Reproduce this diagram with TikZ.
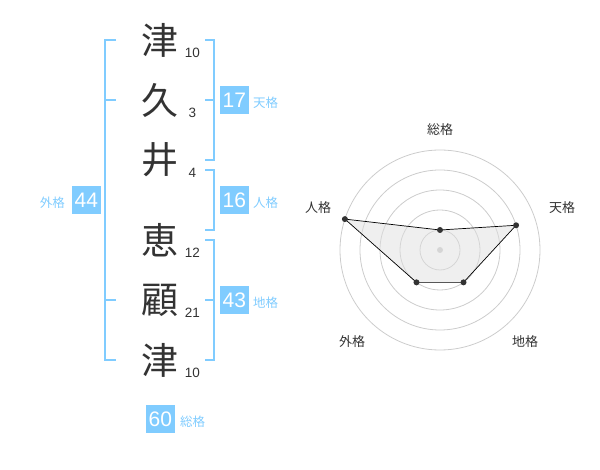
\documentclass[tikz,border=0pt]{standalone}
\usepackage{fontspec}
\setmainfont{Liberation Sans}
\newfontfamily\jp{Noto Sans CJK JP}
\definecolor{kakublue}{HTML}{80CCFF}
\definecolor{inkgray}{HTML}{333333}
\definecolor{gridgray}{HTML}{CCCCCC}
\tikzset{
  moji/.style={font=\jp\fontsize{37}{37}\selectfont, text=inkgray, inner sep=0pt},
  kakusu/.style={font=\fontsize{13.5}{13.5}\selectfont, text=inkgray, inner sep=0pt},
  numbox/.style={fill=kakublue, text=white, font=\fontsize{21}{21}\selectfont, minimum size=28.7pt, inner sep=0pt},
  boxlabel/.style={font=\jp\fontsize{12.5}{12.5}\selectfont, text=kakublue, inner sep=0pt},
  bracket/.style={draw=kakublue, line width=2pt},
  radlabel/.style={font=\jp\fontsize{13}{13}\selectfont, text=inkgray, inner sep=0pt},
  radarline/.style={draw=black, line width=.7pt, fill=gray!25, fill opacity=.5},
}
\begin{document}
\begin{tikzpicture}[x=1pt,y=-1pt]
    \useasboundingbox (0,0) rectangle (600,470);
    % the name, one character per row, with its stroke count
    \foreach \ch/\st/\yy/\nm in {津/10/40/a,久/3/100/b,井/4/160/c,恵/12/240/d,顧/21/300/e,津/10/360/f}{
      \node[moji] (\nm) at (160,\yy) {\ch};
      \node[kakusu] (s\nm) at (192.3,\yy+13) {\st};};
    % brackets
    \draw[bracket] (116,40) -- (105,40) -- (105,360) -- (116,360) (105,100) -- (116,100) (105,300) -- (116,300);
    \draw[bracket] (205,40) -- (214.3,40) -- (214.3,160) -- (205,160) (205,100) -- (214.3,100);
    \draw[bracket] (205,170) -- (214.3,170) -- (214.3,230) -- (205,230);
    \draw[bracket] (205,240) -- (214.3,240) -- (214.3,360) -- (205,360) (205,300) -- (214.3,300);
    % totals
    \node[numbox] (ten) at (234.3,100) {17};
    \node[numbox] (jin) at (234.3,200) {16};
    \node[numbox] (chi) at (234.3,300) {43};
    \node[numbox] (gai) at (86.3,200) {44};
    \node[numbox] (sou) at (160.3,419) {60};
    \node[boxlabel,anchor=west] (lten) at (253,103) {天格};
    \node[boxlabel,anchor=west] (ljin) at (253,203) {人格};
    \node[boxlabel,anchor=west] (lchi) at (253,303) {地格};
    \node[boxlabel,anchor=east] (lgai) at (65,203) {外格};
    \node[boxlabel,anchor=west] (lsou) at (180,422) {総格};
    % radar chart
    \begin{scope}[shift={(440,250)},yscale=-1]
      \foreach \rr in {20,40,...,100}{\draw[gridgray,line width=.8pt] (0,0) circle (\rr);};
      \fill[gridgray] (0,0) circle (3);
      \foreach \ang/\val/\na in {90/20/A,18/80/B,-54/40/C,-126/40/D,162/100/E}{\coordinate (\na) at (\ang:\val);};
      \draw[radarline] (A) -- (B) -- (C) -- (D) -- (E) -- cycle;
      \foreach \na in {A,...,E}{\fill[inkgray] (\na) circle (3);};
      \node[radlabel] (rsou) at (0,120) {総格};
      \node[radlabel] (rten) at (122,42) {天格};
      \node[radlabel] (rchi) at (85,-92) {地格};
      \node[radlabel] (rgai) at (-88,-92) {外格};
      \node[radlabel] (rjin) at (-122,42) {人格};
    \end{scope}
\end{tikzpicture}
\end{document}
